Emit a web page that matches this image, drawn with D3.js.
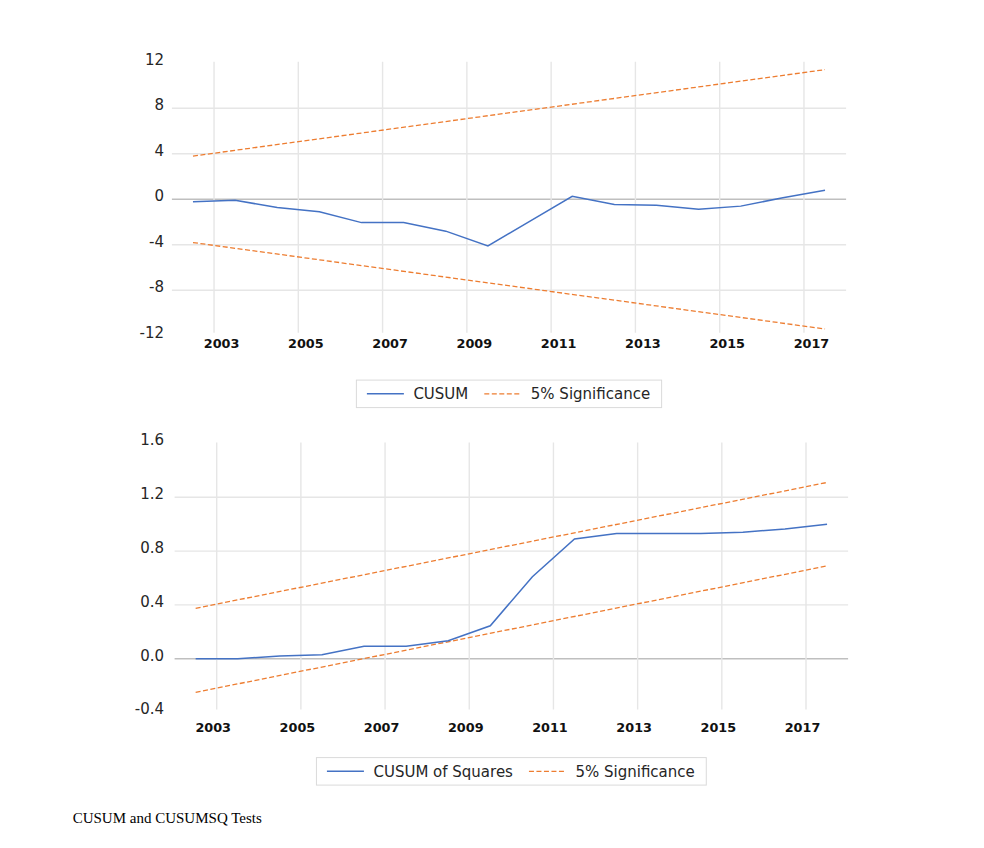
<!DOCTYPE html>
<html>
<head>
<meta charset="utf-8">
<script src="https://cdn.jsdelivr.net/npm/d3@7"></script>
<style>
    html, body { margin: 0; padding: 0; background: #fff; }
    svg { display: block; }
</style>
</head>
<body>
<svg id="chart" width="984" height="848"></svg>
<script>
'use strict';

// observation dates (annual obs, plotted mid-year)
var obsDates = [2002.5, 2003.5, 2004.5, 2005.5, 2006.5, 2007.5, 2008.5, 2009.5,
                2010.5, 2011.5, 2012.5, 2013.5, 2014.5, 2015.5, 2016.5, 2017.5];

var cusum = [-0.21, -0.09, -0.72, -1.10, -2.05, -2.05, -2.80, -4.10,
             -1.92, 0.26, -0.45, -0.52, -0.88, -0.60, 0.14, 0.79];

var cusumSq = [0.0, 0.0, 0.02, 0.03, 0.092, 0.092, 0.134, 0.245,
               0.61, 0.89, 0.93, 0.93, 0.93, 0.94, 0.965, 1.0];

// 5% bands (straight lines, start and end points)
var bandDates = [2002.5, 2017.5];
var cusumUpper = [3.8, 11.4];
var cusumLower = [-3.8, -11.4];
var sqUpper = [0.375, 1.31];
var sqLower = [-0.25, 0.69];

var yearTicks = [2003, 2005, 2007, 2009, 2011, 2013, 2015, 2017];
var cusumTicks = [12, 8, 4, 0, -4, -8, -12];
var sqTicks = [1.6, 1.2, 0.8, 0.4, 0.0, -0.4];

var blue = '#4472c4',
    orange = '#ed7d31';

// plain hyphen for negatives, like the original
var fmt = d3.formatLocale({
    decimal: '.', thousands: ',', grouping: [3], currency: ['', ''], minus: '-'
});

var svg = d3.select('#chart');

var drawPanel = function(cfg) {
    var x = d3.scaleLinear().domain([2002, 2018]).range([cfg.left, cfg.right]);
    var y = d3.scaleLinear().domain(cfg.yDomain).range([cfg.bottom, cfg.top]);
    var g = svg.append('g');
    var yMin = cfg.yDomain[0], yMax = cfg.yDomain[1];

    // horizontal grid (inner ticks only)
    g.selectAll('line.hgrid')
        .data(cfg.yTicks.filter(function(d) { return d > yMin && d < yMax; }))
        .enter().append('line')
        .attr('x1', cfg.left).attr('x2', cfg.right)
        .attr('y1', function(d) { return y(d); })
        .attr('y2', function(d) { return y(d); })
        .attr('stroke', function(d) { return d === 0 ? '#bfbfbf' : '#e6e6e6'; })
        .attr('stroke-width', 1.4);

    // vertical grid
    g.selectAll('line.vgrid')
        .data(yearTicks)
        .enter().append('line')
        .attr('x1', function(d) { return x(d); })
        .attr('x2', function(d) { return x(d); })
        .attr('y1', cfg.top - 1).attr('y2', cfg.bottom - 3)
        .attr('stroke', '#e6e6e6')
        .attr('stroke-width', 1.4);

    // y labels
    var yAxis = d3.axisLeft(y).tickValues(cfg.yTicks).tickSize(0).tickPadding(0)
        .tickFormat(cfg.yFormat);
    var ya = g.append('g').attr('transform', 'translate(' + cfg.labelRight + ',-3.5)').call(yAxis);
    ya.select('.domain').remove();
    ya.selectAll('text')
        .attr('font-family', 'DejaVu Sans, Verdana, sans-serif')
        .attr('font-size', 15)
        .attr('fill', '#262626');

    // x labels
    var xAxis = d3.axisBottom(x).tickValues(yearTicks).tickSize(0).tickPadding(0)
        .tickFormat(d3.format('d'));
    var xa = g.append('g')
        .attr('transform', 'translate(' + cfg.xLabelShift + ',' + cfg.xLabelY + ')')
        .call(xAxis);
    xa.select('.domain').remove();
    xa.selectAll('text')
        .attr('dy', '0.35em')
        .attr('font-family', 'DejaVu Sans, Verdana, sans-serif')
        .attr('font-weight', 'bold')
        .attr('font-size', 12.8)
        .attr('fill', '#111');

    var line = d3.line()
        .x(function(d) { return x(d[0]); })
        .y(function(d) { return y(d[1]); });

    [cfg.upper, cfg.lower].forEach(function(band) {
        g.append('path')
            .attr('d', line(d3.zip(bandDates, band)))
            .attr('fill', 'none')
            .attr('stroke', orange)
            .attr('stroke-width', 1.3)
            .attr('stroke-dasharray', '5,2.5');
    });

    g.append('path')
        .attr('d', line(d3.zip(obsDates, cfg.series)))
        .attr('fill', 'none')
        .attr('stroke', blue)
        .attr('stroke-width', 1.5);

    // legend
    var lg = g.append('g');
    var box = lg.append('rect')
        .attr('fill', '#fff')
        .attr('stroke', '#dadada')
        .attr('stroke-width', 1);
    var cx = 0, cy = cfg.legendY;
    var items = [
        { label: cfg.seriesName, color: blue, dash: null },
        { label: '5% Significance', color: orange, dash: '5,2.5' }
    ];
    cx += 10.5;
    items.forEach(function(it, i) {
        if (i > 0) cx += 16;
        lg.append('line')
            .attr('x1', cx).attr('x2', cx + 37)
            .attr('y1', cy).attr('y2', cy)
            .attr('stroke', it.color)
            .attr('stroke-width', it.dash ? 1.2 : 1.5)
            .attr('stroke-dasharray', it.dash);
        cx += 37 + 9.5;
        var t = lg.append('text')
            .attr('x', cx).attr('y', cy)
            .attr('dy', '0.35em')
            .attr('font-family', 'DejaVu Sans, Verdana, sans-serif')
            .attr('font-size', 15)
            .attr('fill', '#262626')
            .text(it.label);
        cx += t.node().getComputedTextLength();
    });
    cx += 11.5;
    box.attr('x', 0).attr('y', cy - 13.7).attr('width', cx).attr('height', 27.5);
    var mid = (cfg.left + cfg.right) / 2;
    lg.attr('transform', 'translate(' + (mid - cx / 2) + ',0)');
};

drawPanel({
    left: 171.9, right: 846.1, top: 62.8, bottom: 335.8,
    yDomain: [-12, 12], yTicks: cusumTicks, yFormat: fmt.format('d'),
    labelRight: 164, xLabelY: 344, xLabelShift: 7,
    series: cusum, upper: cusumUpper, lower: cusumLower,
    seriesName: 'CUSUM', legendY: 393.8
});

drawPanel({
    left: 174.6, right: 848.1, top: 443.5, bottom: 712.5,
    yDomain: [-0.4, 1.6], yTicks: sqTicks, yFormat: fmt.format('.1f'),
    labelRight: 164, xLabelY: 727.3, xLabelShift: -4,
    series: cusumSq, upper: sqUpper, lower: sqLower,
    seriesName: 'CUSUM of Squares', legendY: 771.3
});

svg.append('text')
    .attr('x', 72.7).attr('y', 823.3)
    .attr('font-family', 'Liberation Serif, Times New Roman, serif')
    .attr('font-size', 15)
    .attr('fill', '#000')
    .text('CUSUM and CUSUMSQ Tests');
</script>
</body>
</html>
